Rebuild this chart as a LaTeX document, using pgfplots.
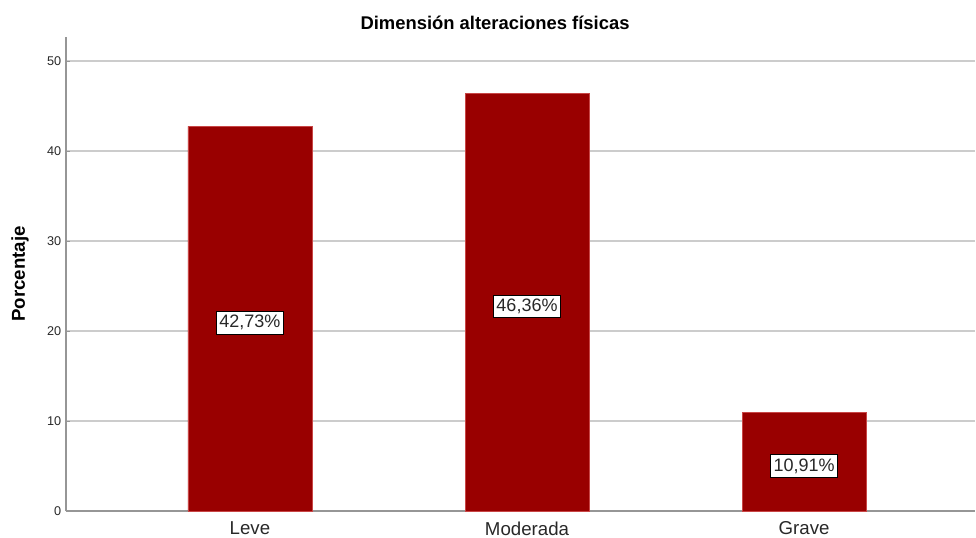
\documentclass[border=0pt]{standalone}
\usepackage{pgfplots}
\pgfplotsset{compat=1.18}
\usepackage{pgfplotstable}
\usepackage{fontspec}
\setmainfont{Liberation Sans}
\definecolor{barred}{RGB}{153,0,0}
\definecolor{baredge}{RGB}{200,70,70}
\definecolor{gridgray}{RGB}{204,204,204}
\definecolor{axisgray}{RGB}{150,150,150}
\definecolor{textgray}{RGB}{40,40,40}

\pgfplotstableread{
x y lab
0 42.73 42,73\%
1 46.36 46,36\%
2 10.91 10,91\%
}\datatable

\begin{document}
\begin{tikzpicture}[x=0.75pt,y=0.75pt]
\path[use as bounding box] (-66,-27) rectangle (910,511);
\begin{axis}[
  at={(0,0)}, anchor=south west,
  scale only axis, width=681.75pt, height=355.5pt,
  xmin=-0.664, xmax=2.617, ymin=0, ymax=52.67,
  axis x line*=bottom, axis y line*=left,
  axis line style={axisgray, line width=0.9pt},
  xtick=data, xticklabels={Leve, Moderada, Grave},
  x tick label style={font=\fontsize{14}{16}\selectfont, inner sep=1pt,
    yshift=-7pt, text=textgray},
  ytick={0,10,20,30,40,50},
  y tick label style={font=\fontsize{9.5}{11}\selectfont, text=textgray},
  /pgf/number format/assume math mode=true,
  major tick length=3pt,
  xtick style={draw=none},
  ytick style={axisgray},
  ymajorgrids, grid style={gridgray, line width=0.9pt},
  clip=false,
]
\addplot[ybar, bar width=93pt, fill=barred, draw=baredge, line width=0.6pt]
  table[x=x, y=y] {\datatable};
\addplot[draw=none, mark=none, nodes near coords, point meta=explicit symbolic,
  every node near coord/.append style={anchor=center, yshift=-3pt,
    fill=white, draw=black, line width=0.6pt, inner xsep=2pt, inner ysep=3pt,
    text=textgray, font=\fontsize{13.5}{15}\selectfont}]
  table[x=x, y expr=\thisrow{y}/2, meta=lab] {\datatable};
\node[anchor=base, font=\bfseries\fontsize{13.8}{16}\selectfont]
  at (rel axis cs:0.472,1) [yshift=5.25pt] {Dimensión alteraciones físicas};
\node[rotate=90, anchor=center, font=\bfseries\fontsize{14}{16}\selectfont]
  at ([xshift=-34.5pt]rel axis cs:0,0.5) {Porcentaje};
\end{axis}
\end{tikzpicture}
\end{document}
